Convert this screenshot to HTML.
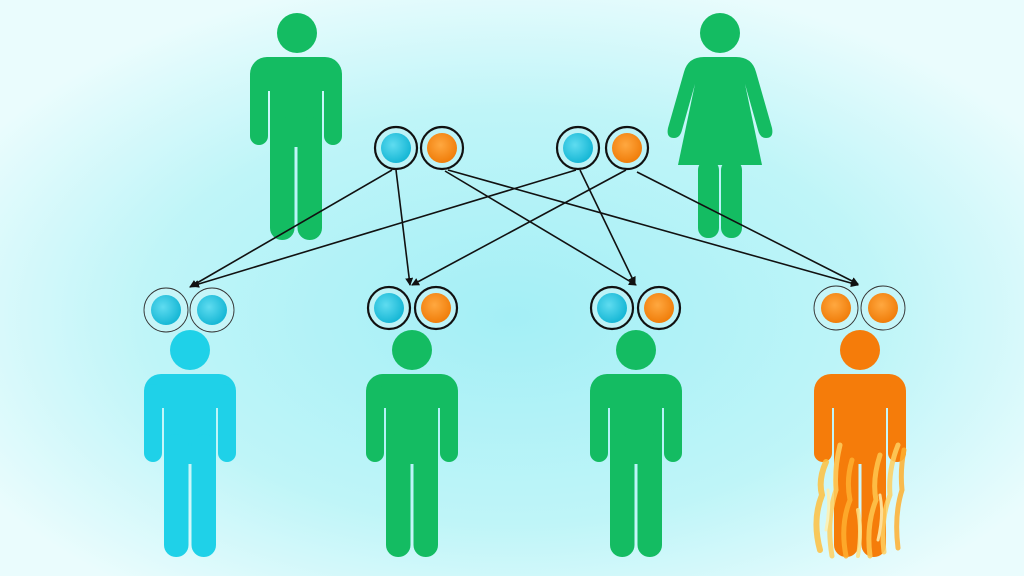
<!DOCTYPE html><html><head><style>html,body{margin:0;padding:0;width:1024px;height:576px;overflow:hidden}</style></head><body>
<svg width="1024" height="576" viewBox="0 0 1024 576" xmlns="http://www.w3.org/2000/svg">
<defs>
<radialGradient id="bg" cx="50%" cy="55%" r="60%">
<stop offset="0" stop-color="#a4eff6"/><stop offset="0.6" stop-color="#bff5f8"/><stop offset="1" stop-color="#eafcfd"/></radialGradient>
<radialGradient id="bl" cx="40%" cy="40%" r="60%"><stop offset="0" stop-color="#5fdcf0"/><stop offset="1" stop-color="#18b8d6"/></radialGradient>
<radialGradient id="or" cx="45%" cy="40%" r="60%"><stop offset="0" stop-color="#ffa840"/><stop offset="1" stop-color="#f07d0a"/></radialGradient>
<g id="man">
<rect x="-46" y="0" width="92" height="34" rx="17"/>
<rect x="-46" y="10" width="18" height="78" rx="9"/>
<rect x="28" y="10" width="18" height="78" rx="9"/>
<rect x="-26" y="10" width="52" height="80"/>
<rect x="-26" y="60" width="24.5" height="123" rx="12"/>
<rect x="1.5" y="60" width="24.5" height="123" rx="12"/>
</g>
<marker id="ar" markerWidth="8" markerHeight="8" refX="7" refY="4" orient="auto" markerUnits="userSpaceOnUse"><path d="M0,0 L8,4 L0,8 z" fill="#111"/></marker>
</defs>
<rect width="1024" height="576" fill="url(#bg)"/>
<g fill="#14bc62"><circle cx="297" cy="33" r="20"/><use href="#man" x="296" y="57"/></g>
<g fill="#14bc62"><circle cx="720" cy="33" r="20"/>
<path d="M704,57 L736,57 Q752,57 756,72 L772,128 Q774,138 766,138 Q760,138 758,130 L745,84 L762,165 L678,165 L695,84 L682,130 Q680,138 674,138 Q666,138 668,128 L684,72 Q688,57 704,57 Z"/>
<rect x="698" y="160" width="21" height="78" rx="10"/><rect x="721" y="160" width="21" height="78" rx="10"/></g>
<g fill="#1fd1e8"><circle cx="190" cy="350" r="20"/><use href="#man" x="190" y="374"/></g>
<g fill="#14bc62"><circle cx="412" cy="350" r="20"/><use href="#man" x="412" y="374"/></g>
<g fill="#14bc62"><circle cx="636" cy="350" r="20"/><use href="#man" x="636" y="374"/></g>
<g fill="#f57c0a"><circle cx="860" cy="350" r="20"/><use href="#man" x="860" y="374"/></g>
<!-- fire: thin flame tongues -->
<g opacity="0.85" fill="none" stroke-linecap="round">
<path d="M820,550 Q812,520 822,495 Q818,480 826,462" stroke="#ffc040" stroke-width="6"/>
<path d="M832,556 Q826,520 836,490 Q834,470 840,445" stroke="#ffd060" stroke-width="5"/>
<path d="M846,556 Q840,525 850,500 Q846,480 852,460" stroke="#ffb030" stroke-width="5"/>
<path d="M870,556 Q866,525 876,500 Q872,480 880,455" stroke="#ffc850" stroke-width="5"/>
<path d="M884,552 Q880,520 890,495 Q888,470 898,445" stroke="#ffd060" stroke-width="5"/>
<path d="M898,548 Q894,515 902,490 Q900,470 904,450" stroke="#ffb030" stroke-width="5"/>
<path d="M826,530 Q830,510 828,490" stroke="#fff0b0" stroke-width="3"/>
<path d="M878,540 Q884,515 880,495" stroke="#fff0b0" stroke-width="3"/>
<path d="M858,556 Q862,530 858,510" stroke="#ffe080" stroke-width="4"/>
</g>
<g stroke="#111" stroke-width="1.6" fill="none" marker-end="url(#ar)">
<line x1="392" y1="170" x2="190" y2="287"/>
<line x1="396" y1="170" x2="410" y2="285"/>
<line x1="445" y1="171" x2="636" y2="285"/>
<line x1="448" y1="170" x2="858" y2="285"/>
<line x1="576" y1="170" x2="192" y2="286"/>
<line x1="580" y1="170" x2="635" y2="284"/>
<line x1="626" y1="170" x2="412" y2="285"/>
<line x1="637" y1="172" x2="858" y2="284"/>
</g>
<g stroke="#111" stroke-width="2.2">
<circle cx="396" cy="148" r="21" fill="#bdf3f7"/><circle cx="396" cy="148" r="15" fill="url(#bl)" stroke="none"/>
<circle cx="442" cy="148" r="21" fill="#bdf3f7"/><circle cx="442" cy="148" r="15" fill="url(#or)" stroke="none"/>
<circle cx="578" cy="148" r="21" fill="#bdf3f7"/><circle cx="578" cy="148" r="15" fill="url(#bl)" stroke="none"/>
<circle cx="627" cy="148" r="21" fill="#bdf3f7"/><circle cx="627" cy="148" r="15" fill="url(#or)" stroke="none"/>
<circle cx="389" cy="308" r="21" fill="#bdf3f7"/><circle cx="389" cy="308" r="15" fill="url(#bl)" stroke="none"/>
<circle cx="436" cy="308" r="21" fill="#bdf3f7"/><circle cx="436" cy="308" r="15" fill="url(#or)" stroke="none"/>
<circle cx="612" cy="308" r="21" fill="#bdf3f7"/><circle cx="612" cy="308" r="15" fill="url(#bl)" stroke="none"/>
<circle cx="659" cy="308" r="21" fill="#bdf3f7"/><circle cx="659" cy="308" r="15" fill="url(#or)" stroke="none"/>
</g>
<g stroke="#333" stroke-width="0.9">
<circle cx="166" cy="310" r="22" fill="#c6f5f8"/><circle cx="166" cy="310" r="15" fill="url(#bl)" stroke="none"/>
<circle cx="212" cy="310" r="22" fill="#c6f5f8"/><circle cx="212" cy="310" r="15" fill="url(#bl)" stroke="none"/>
<circle cx="836" cy="308" r="22" fill="#c6f5f8"/><circle cx="836" cy="308" r="15" fill="url(#or)" stroke="none"/>
<circle cx="883" cy="308" r="22" fill="#c6f5f8"/><circle cx="883" cy="308" r="15" fill="url(#or)" stroke="none"/>
</g>
</svg>
</body></html>
